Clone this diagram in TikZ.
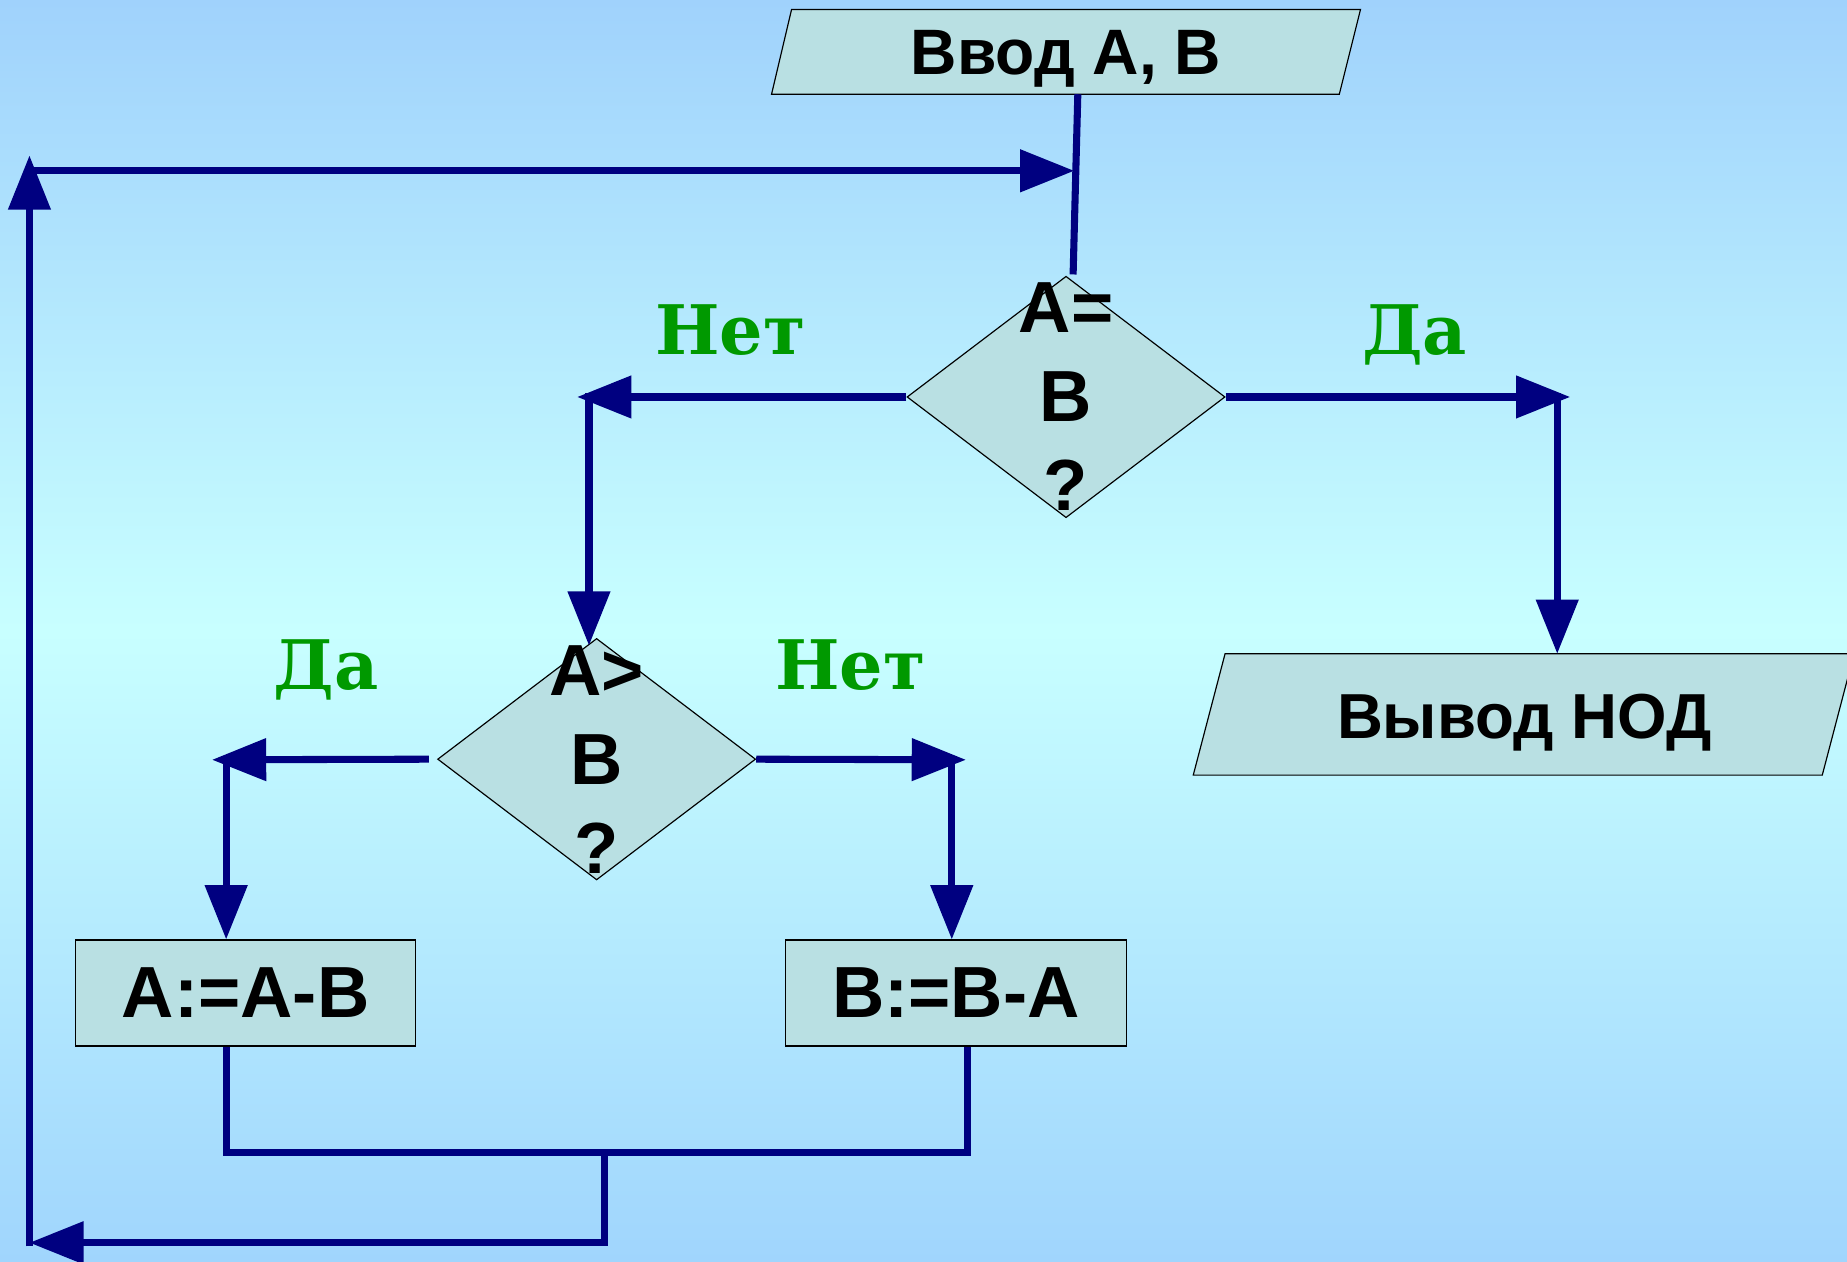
\documentclass[tikz,border=0pt]{standalone}
\usepackage{fontspec}
\setmainfont{Liberation Sans}
\newfontfamily\lblfont{DejaVu Serif}
\usetikzlibrary{arrows.meta,shapes.geometric}
\definecolor{navy}{RGB}{0,0,128}
\definecolor{boxfill}{RGB}{185,224,227}
\definecolor{lblgreen}{RGB}{0,153,0}
\definecolor{bgtop}{RGB}{160,210,252}
\definecolor{bgmid}{RGB}{200,255,255}
\definecolor{bgbot}{RGB}{160,213,253}
\begin{document}
\begin{tikzpicture}[x=1pt,y=-1pt,
  flow/.style={draw=navy,line width=6pt},
  arr/.style={flow,-{Triangle[length=46pt,width=35pt]}},
  shapebox/.style={draw=black,fill=boxfill,line width=1pt},
  dia/.style={shape=diamond,draw=black,fill=boxfill,line width=1pt,inner sep=0pt,
    minimum width=270pt,minimum height=205pt,aspect=1.317},
  dtext/.style={font=\fontsize{61.5pt}{75.5pt}\selectfont\bfseries,align=center,inner sep=0pt},
  proc/.style={rectangle,draw=black,fill=boxfill,line width=1pt,inner sep=0pt,
    minimum width=289pt,minimum height=90pt,font=\fontsize{61.5pt}{70pt}\selectfont\bfseries},
  lbl/.style={font=\lblfont\bfseries\fontsize{58pt}{64pt}\selectfont,text=lblgreen,anchor=base,inner sep=0pt}
]
\useasboundingbox (0,0) rectangle (1568,1071);
\shade[top color=bgtop,bottom color=bgbot,middle color=bgmid] (0,0) rectangle (1568,1071);

% input / output parallelograms
\draw[shapebox] (672,8) -- (1155,8) -- (1137,80) -- (655,80) -- cycle;
\node[font=\fontsize{54.5pt}{60pt}\selectfont\bfseries,anchor=base,inner sep=0pt] (in) at (905,63) {Ввод А, В};
\draw[shapebox] (1040,555) -- (1574,555) -- (1547,658) -- (1013,658) -- cycle;
\node[font=\fontsize{54pt}{60pt}\selectfont\bfseries,anchor=base,inner sep=0pt] (out) at (1294,627) {Вывод НОД};

% connectors (drawn before decision shapes where they meet them)
\coordinate (inb) at (915,80);
\coordinate (d1top) at (911,233);
\draw[flow] (inb) -- (d1top);

\node[dia] (d1) at (905,337) {};
\node[dia] (d2) at (506.5,644.5) {};

\node[proc] (p1) at (208.5,843) {A:=A-B};
\node[proc] (p2) at (811.5,843) {B:=B-A};

% from d1
\coordinate (t1) at (490,337);
\coordinate (c1) at (500,334);
\coordinate (c1e) at (500,548);
\draw[arr] (d1.west) -- (t1);
\draw[arr] (c1) -- (c1e);
\coordinate (t2) at (1333,337);
\coordinate (c2) at (1322,334);
\coordinate (c2e) at (1322,555);
\draw[arr] (d1.east) -- (t2);
\draw[arr] (c2) -- (c2e);

% from d2
\coordinate (t3) at (180,645);
\coordinate (c3) at (192,642);
\draw[arr] ([xshift=-7pt]d2.west) -- (t3);
\draw[arr] (c3) -- (c3 |- p1.north);
\coordinate (t4) at (820,645);
\coordinate (c4) at (808,642);
\draw[arr] (d2.east) -- (t4);
\draw[arr] (c4) -- (c4 |- p2.north);

% merge and loop back
\coordinate (m1) at (192,978);
\coordinate (m2) at (821,978);
\coordinate (m3) at (513,978);
\coordinate (m4) at (513,1055);
\coordinate (l1) at (25,1055);
\coordinate (l1s) at (25,1058);
\coordinate (l2) at (25,132);
\coordinate (l3) at (22,145);
\coordinate (l4) at (912,145);
\draw[flow,line join=miter] (m1 |- p1.south) -- (m1) -- (m2) -- (m2 |- p2.south);
\draw[arr,line join=miter] (m3) -- (m4) -- (l1);
\draw[arr] (l1s) -- (l2);
\draw[arr] (l3) -- (l4);

% decision texts
\node[dtext] (d1t) at (905,337) {A=\\B\\?};
\node[dtext] (d2t) at (506.5,644.5) {A>\\B\\?};

% labels
\node[lbl] (n1) at (620,301) {Нет};
\node[lbl] (y1) at (1201,301) {Да};
\node[lbl] (y2) at (277,585) {Да};
\node[lbl] (n2) at (722,585) {Нет};
\end{tikzpicture}
\end{document}
